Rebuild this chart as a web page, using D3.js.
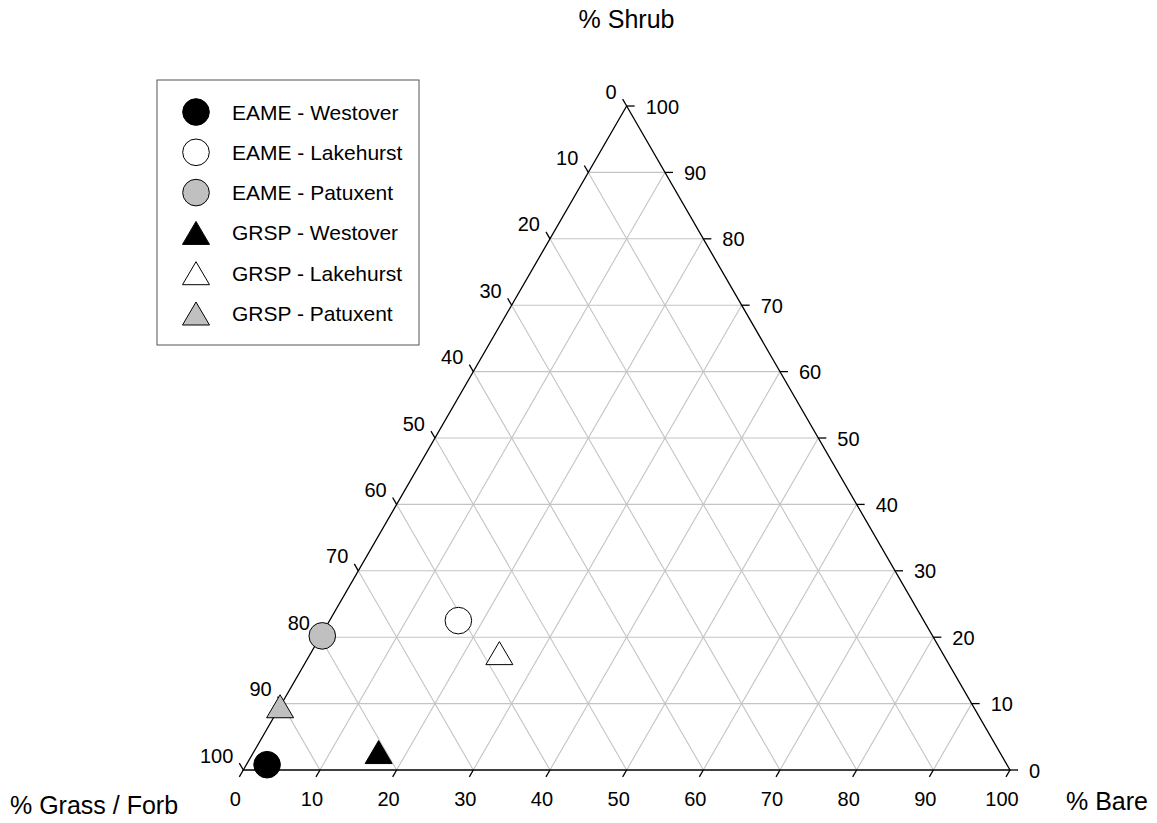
<!DOCTYPE html>
<html>
<head>
<meta charset="utf-8">
<script src="https://cdn.jsdelivr.net/npm/d3@7"></script>
<style>
  body { margin: 0; background: #fff; }
  svg { display: block; font-family: Arial, "Liberation Sans", sans-serif; }
</style>
</head>
<body>
<div id="chart"></div>
<script>
// series, in percent (grass = 100 - shrub - bare)
const seriesNames = ['EAME - Westover', 'EAME - Lakehurst', 'EAME - Patuxent',
                     'GRSP - Westover', 'GRSP - Lakehurst', 'GRSP - Patuxent'];
const seriesShape = ['circle', 'circle', 'circle', 'triangle', 'triangle', 'triangle'];
const seriesFill = ['#000000', '#ffffff', '#c0c0c0', '#000000', '#ffffff', '#c0c0c0'];
const shrubValues = [0.8, 22.5, 20.2, 2.7, 17.6, 9.6];
const bareValues = [2.7, 16.8, 0.2, 16.3, 24.6, 0.0];
const tickValues = [0, 10, 20, 30, 40, 50, 60, 70, 80, 90, 100];

const width = 1157, height = 823;
const x0 = 243.3, side = 766.7, y0 = 770;
const triH = side * Math.sqrt(3) / 2;

const svg = d3.select('#chart').append('svg')
  .attr('width', width).attr('height', height);

const xScale = d3.scaleLinear().domain([0, 100]).range([x0, x0 + side]);
const yScale = d3.scaleLinear().domain([0, 100]).range([y0, y0 - triH]);

// shrub = height, bare = bottom axis
function project(shrub, bare) {
  return [xScale(bare + shrub / 2), yScale(shrub)];
}

const line = d3.line();
const grid = svg.append('g').attr('class', 'grid')
  .attr('stroke', '#c4c4c4').attr('stroke-width', 1.1).attr('fill', 'none');

tickValues.slice(1, -1).forEach(v => {
  // constant shrub
  grid.append('path').attr('d', line([project(v, 0), project(v, 100 - v)]));
  // constant bare
  grid.append('path').attr('d', line([project(0, v), project(100 - v, v)]));
  // constant grass
  grid.append('path').attr('d', line([project(0, 100 - v), project(100 - v, 0)]));
});

// triangle edges
svg.append('path')
  .attr('d', line([project(0, 0), project(0, 100), project(100, 0)]) + 'Z')
  .attr('fill', 'none').attr('stroke', '#000').attr('stroke-width', 1.3);

const tickLen = 8;
const c60 = 0.5, s60 = Math.sqrt(3) / 2;
const ticks = svg.append('g').attr('stroke', '#000').attr('stroke-width', 1.3);
const labels = svg.append('g').attr('font-size', '20px').attr('fill', '#000');

tickValues.forEach(v => {
  // bottom axis: % Bare
  let p = project(0, v);
  ticks.append('path').attr('d', line([p, [p[0] - tickLen * c60, p[1] + tickLen * s60]]));
  labels.append('text').attr('x', p[0] - 8).attr('y', p[1] + 36)
    .attr('text-anchor', 'middle').text(v);

  // right axis: % Shrub
  p = project(v, 100 - v);
  ticks.append('path').attr('d', line([p, [p[0] + tickLen, p[1]]]));
  labels.append('text').attr('x', p[0] + 19).attr('y', p[1] + 7.5)
    .attr('text-anchor', 'start').text(v);

  // left axis: % Grass / Forb
  p = project(100 - v, 0);
  ticks.append('path').attr('d', line([p, [p[0] - tickLen * c60, p[1] - tickLen * s60]]));
  labels.append('text').attr('x', p[0] - 10).attr('y', p[1] - 7.5)
    .attr('text-anchor', 'end').text(v);
});

// axis titles
const titles = svg.append('g').attr('font-size', '25px').attr('fill', '#000');
titles.append('text').attr('x', 626.5).attr('y', 28).attr('text-anchor', 'middle').text('% Shrub');
titles.append('text').attr('x', 10).attr('y', 814).text('% Grass / Forb');
titles.append('text').attr('x', 1066).attr('y', 810).text('% Bare');

function drawMarker(g, shape, cx, cy, fill) {
  if (shape === 'circle') {
    g.append('circle').attr('cx', cx).attr('cy', cy).attr('r', 13.3)
      .attr('fill', fill).attr('stroke', '#000').attr('stroke-width', 1);
  } else {
    const w = 27, h = 23;
    g.append('path')
      .attr('d', line([[cx, cy - h / 2], [cx + w / 2, cy + h / 2], [cx - w / 2, cy + h / 2]]) + 'Z')
      .attr('fill', fill).attr('stroke', '#000').attr('stroke-width', 1);
  }
}

const points = svg.append('g').attr('class', 'points');
seriesNames.forEach((name, i) => {
  const p = project(shrubValues[i], bareValues[i]);
  drawMarker(points, seriesShape[i], p[0], p[1], seriesFill[i]);
});

// legend
const legend = svg.append('g').attr('class', 'legend');
legend.append('rect')
  .attr('x', 157).attr('y', 80).attr('width', 262).attr('height', 265)
  .attr('fill', '#fff').attr('stroke', '#555').attr('stroke-width', 1);

seriesNames.forEach((name, i) => {
  const cy = 112 + i * 40.3;
  drawMarker(legend, seriesShape[i], 196, cy, seriesFill[i]);
  legend.append('text').attr('x', 232).attr('y', cy + 7.5)
    .attr('font-size', '21px').attr('fill', '#000').text(name);
});
</script>
</body>
</html>
